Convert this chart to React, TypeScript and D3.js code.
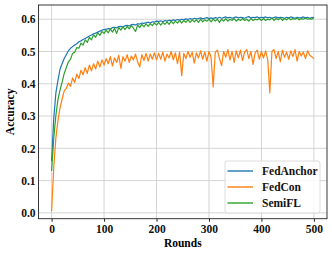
import { useEffect, useRef } from "react";
import * as d3 from "d3";

// one value every 4 rounds, 0..500
const STEP = 4;
const xTicks = [0, 100, 200, 300, 400, 500];
const yTicks = [0.0, 0.1, 0.2, 0.3, 0.4, 0.5, 0.6];

const fedAnchor = [
  0.160, 0.290, 0.370, 0.410, 0.445, 0.462, 0.478, 0.490, 0.502, 0.510, 0.515, 0.520, 0.524,
  0.530, 0.533, 0.537, 0.540, 0.544, 0.548, 0.551, 0.555, 0.557, 0.560, 0.563, 0.566, 0.568,
  0.569, 0.571, 0.570, 0.574, 0.575, 0.573, 0.577, 0.578, 0.576, 0.580, 0.581, 0.579, 0.583,
  0.584, 0.582, 0.586, 0.585, 0.588, 0.587, 0.589, 0.591, 0.588, 0.592, 0.591, 0.594,
  0.593, 0.595, 0.592, 0.596, 0.594, 0.597, 0.595, 0.598, 0.596, 0.599, 0.597, 0.600, 0.598,
  0.601, 0.599, 0.602, 0.600, 0.603, 0.601, 0.602, 0.604, 0.601, 0.603, 0.605, 0.602,
  0.604, 0.602, 0.605, 0.603, 0.606, 0.603, 0.605, 0.607, 0.604, 0.606, 0.603, 0.605, 0.607,
  0.604, 0.606, 0.605, 0.603, 0.606, 0.608, 0.604, 0.606, 0.605, 0.607, 0.604, 0.606,
  0.605, 0.607, 0.604, 0.606, 0.603, 0.605, 0.607, 0.604, 0.606, 0.605, 0.603, 0.606, 0.604,
  0.607, 0.605, 0.603, 0.606, 0.604, 0.605, 0.607, 0.604, 0.606, 0.603, 0.605, 0.606,
];

const fedCon = [
  0.005, 0.140, 0.230, 0.285, 0.325, 0.352, 0.378, 0.386, 0.402, 0.392, 0.418, 0.404, 0.430,
  0.416, 0.442, 0.428, 0.450, 0.432, 0.458, 0.440, 0.462, 0.446, 0.470, 0.452, 0.474, 0.458,
  0.478, 0.462, 0.484, 0.455, 0.480, 0.466, 0.488, 0.448, 0.484, 0.470, 0.490, 0.466, 0.486,
  0.474, 0.492, 0.468, 0.452, 0.490, 0.472, 0.494, 0.470, 0.492, 0.476, 0.496, 0.474,
  0.494, 0.476, 0.498, 0.470, 0.492, 0.480, 0.500, 0.474, 0.496, 0.462, 0.498, 0.425, 0.494,
  0.478, 0.500, 0.482, 0.498, 0.464, 0.496, 0.480, 0.502, 0.476, 0.498, 0.470, 0.500,
  0.482, 0.390, 0.498, 0.504, 0.478, 0.456, 0.500, 0.482, 0.506, 0.474, 0.500, 0.466, 0.502,
  0.480, 0.504, 0.472, 0.498, 0.506, 0.478, 0.500, 0.460, 0.496, 0.504, 0.476, 0.500,
  0.480, 0.502, 0.474, 0.372, 0.500, 0.506, 0.478, 0.500, 0.468, 0.504, 0.482, 0.498, 0.476,
  0.502, 0.484, 0.506, 0.470, 0.500, 0.486, 0.498, 0.478, 0.502, 0.488, 0.484, 0.478,
];

const semiFL = [
  0.130, 0.230, 0.300, 0.350, 0.380, 0.405, 0.432, 0.450, 0.468, 0.476, 0.494, 0.498, 0.512,
  0.510, 0.526, 0.520, 0.536, 0.528, 0.544, 0.536, 0.552, 0.544, 0.558, 0.550, 0.562, 0.556,
  0.566, 0.558, 0.570, 0.560, 0.572, 0.556, 0.574, 0.566, 0.576, 0.568, 0.578, 0.570, 0.580,
  0.572, 0.562, 0.582, 0.574, 0.584, 0.576, 0.586, 0.578, 0.586, 0.580, 0.588, 0.582,
  0.590, 0.582, 0.590, 0.584, 0.592, 0.584, 0.594, 0.586, 0.594, 0.588, 0.596, 0.588, 0.596,
  0.590, 0.598, 0.590, 0.598, 0.592, 0.598, 0.590, 0.600, 0.592, 0.598, 0.594, 0.600,
  0.592, 0.600, 0.594, 0.600, 0.590, 0.600, 0.594, 0.602, 0.594, 0.600, 0.596, 0.602, 0.594,
  0.600, 0.596, 0.602, 0.596, 0.600, 0.594, 0.602, 0.596, 0.600, 0.598, 0.602, 0.596,
  0.602, 0.596, 0.600, 0.598, 0.604, 0.596, 0.602, 0.598, 0.604, 0.596, 0.602, 0.598, 0.604,
  0.598, 0.602, 0.600, 0.604, 0.598, 0.602, 0.600, 0.604, 0.600, 0.602, 0.600, 0.604,
];

const series = [
  { name: "FedAnchor", values: fedAnchor, color: "#1f77b4" },
  { name: "FedCon", values: fedCon, color: "#ff7f0e" },
  { name: "SemiFL", values: semiFL, color: "#2ca02c" },
];

const FONT = "'Liberation Serif', 'Times New Roman', serif";

const App = () => {
  const svgRef = useRef<SVGSVGElement>(null);

  useEffect(() => {
    const w = 332;
    const h = 254;
    const m = { left: 38.5, right: 5, top: 5, bottom: 35.3 };
    const svg = d3.select(svgRef.current).attr("width", w).attr("height", h);
    svg.selectAll("*").remove();

    const x = d3.scaleLinear().domain([-25, 525]).range([m.left, w - m.right]);
    const y = d3.scaleLinear().domain([-0.018, 0.644]).range([h - m.bottom, m.top]);

    svg.append("rect").attr("width", w).attr("height", h).attr("fill", "#fff");

    // grid
    const grid = svg.append("g").attr("stroke", "#cfcfcf").attr("stroke-width", 0.9);
    grid.selectAll(".gx").data(xTicks).join("line")
      .attr("x1", (d) => x(d)).attr("x2", (d) => x(d))
      .attr("y1", m.top).attr("y2", h - m.bottom);
    grid.selectAll(".gy").data(yTicks).join("line")
      .attr("y1", (d) => y(d)).attr("y2", (d) => y(d))
      .attr("x1", m.left).attr("x2", w - m.right);

    const line = d3.line<number>()
      .x((d, i) => x(i * STEP))
      .y((d) => y(d));

    svg.append("g").selectAll("path").data(series).join("path")
      .attr("d", (s) => line(s.values))
      .attr("fill", "none")
      .attr("stroke", (s) => s.color)
      .attr("stroke-width", 1.2)
      .attr("stroke-linejoin", "round");

    // frame
    svg.append("rect")
      .attr("x", m.left).attr("y", m.top)
      .attr("width", w - m.right - m.left).attr("height", h - m.bottom - m.top)
      .attr("fill", "none").attr("stroke", "#222").attr("stroke-width", 0.9);

    const xAxis = d3.axisBottom(x).tickValues(xTicks).tickSize(3).tickPadding(3).tickFormat(d3.format("d"));
    const gx = svg.append("g").attr("transform", `translate(0,${h - m.bottom})`).call(xAxis);
    const yAxis = d3.axisLeft(y).tickValues(yTicks).tickSize(0).tickPadding(3).tickFormat(d3.format(".1f"));
    const gy = svg.append("g").attr("transform", `translate(${m.left},0)`).call(yAxis);
    [gx, gy].forEach((g) => {
      g.select(".domain").remove();
      g.selectAll("line").attr("stroke", "#222");
      g.selectAll("text")
        .attr("fill", "#111")
        .style("font-family", FONT)
        .style("font-weight", "bold")
        .style("font-size", "11.5px");
    });

    svg.append("text")
      .attr("x", (m.left + w - m.right) / 2).attr("y", 247)
      .attr("text-anchor", "middle")
      .style("font-family", FONT).style("font-weight", "bold").style("font-size", "11.5px")
      .text("Rounds");
    svg.append("text")
      .attr("transform", `translate(13.5,${(m.top + h - m.bottom) / 2}) rotate(-90)`)
      .attr("text-anchor", "middle")
      .style("font-family", FONT).style("font-weight", "bold").style("font-size", "11.5px")
      .text("Accuracy");

    // legend
    const lg = svg.append("g").attr("transform", "translate(225,161)");
    lg.append("rect").attr("width", 95).attr("height", 52).attr("rx", 2.5)
      .attr("fill", "#fff").attr("fill-opacity", 0.85)
      .attr("stroke", "#d8d8d8").attr("stroke-width", 0.9);
    const items = lg.selectAll(".item").data(series).join("g")
      .attr("transform", (d, i) => `translate(0,${10 + i * 16})`);
    items.append("line").attr("x1", 2.5).attr("x2", 28)
      .attr("stroke", (d) => d.color).attr("stroke-width", 1.4);
    items.append("text").attr("x", 37).attr("dy", "0.35em")
      .style("font-family", FONT).style("font-weight", "bold").style("font-size", "11.5px")
      .attr("fill", "#111")
      .text((d) => d.name);
  }, []);

  return <svg ref={svgRef} style={{ position: "absolute", left: 0, top: 0, display: "block" }}></svg>;
};

export default App;
